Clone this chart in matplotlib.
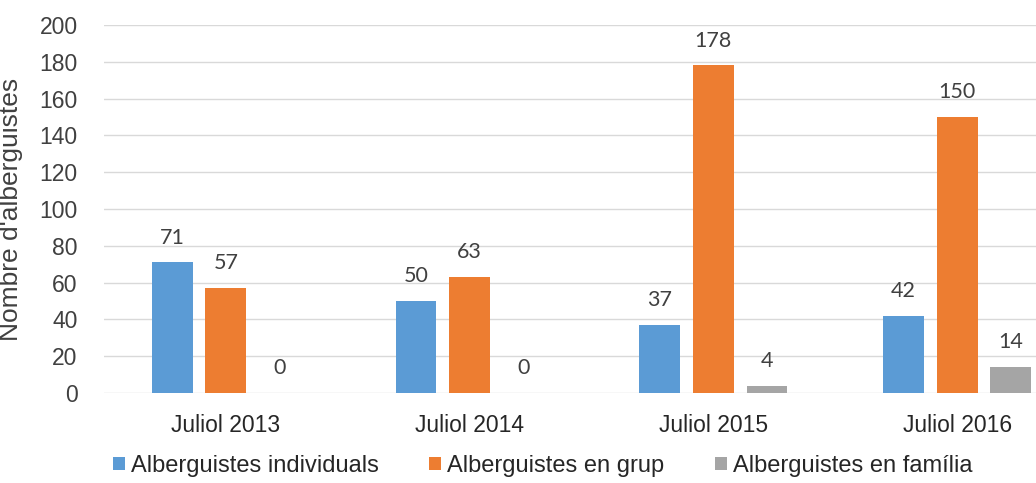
import matplotlib
matplotlib.use("Agg")
import matplotlib.pyplot as plt
import numpy as np

categories = ["Juliol 2013", "Juliol 2014", "Juliol 2015", "Juliol 2016"]
series_names = ["Alberguistes individuals", "Alberguistes en grup", "Alberguistes en família"]
individuals = [71, 50, 37, 42]
grup = [57, 63, 178, 150]
familia = [0, 0, 4, 14]
yticks = [0, 20, 40, 60, 80, 100, 120, 140, 160, 180, 200]
ylabel = "Nombre d'alberguistes"

colors = ["#5B9BD5", "#ED7D31", "#A5A5A5"]

W, H = 1036, 483
fig = plt.figure(figsize=(W / 100, H / 100), dpi=100)
# axes in pixel coords: left 104, right 1079 (chart cropped on right), y0=393, y200=25
left, right = 104, 1079
bottom_px, top_px = 393, 25
ax = fig.add_axes([left / W, (H - bottom_px) / H, (right - left) / W, (bottom_px - top_px) / H])

x = np.arange(len(categories))
bw = 0.168
off = 0.22
all_series = [individuals, grup, familia]
for i, (vals, name, c) in enumerate(zip(all_series, series_names, colors)):
    pos = x + (i - 1) * off
    ax.bar(pos, vals, width=bw, color=c, label=name, zorder=3)
    for p, v in zip(pos, vals):
        ax.text(p, v + 13.5, str(v), ha="center", va="center", fontsize=15.5,
                family="Lato", color="#404040", zorder=4)

ax.set_xlim(-0.5, len(categories) - 0.5)
ax.set_ylim(0, 200)
ax.set_yticks(yticks)
ax.set_yticklabels([str(t) for t in yticks], fontsize=16.5, family="Liberation Sans", color="#404040")
ax.set_xticks(x)
ax.set_xticklabels(categories, fontsize=16.5, family="Liberation Sans", color="#262626")
ax.tick_params(axis="both", length=0)
ax.tick_params(axis="y", pad=19)
ax.tick_params(axis="x", pad=15)
ax.yaxis.grid(True, color="#D9D9D9", linewidth=1, zorder=0)
for s in ax.spines.values():
    s.set_visible(False)
ax.set_ylabel(ylabel, fontsize=19, family="Liberation Sans", color="#404040")
ax.yaxis.set_label_coords((23 - left) / (right - left), 0.5)

handles, labels = ax.get_legend_handles_labels()
leg = fig.legend(handles, labels, loc="center left", bbox_to_anchor=(113 / W, 1 - 466 / H),
                 ncol=3, frameon=False, prop={"family": "Liberation Sans", "size": 17},
                 handlelength=0.5, handleheight=0.5, handletextpad=0.25, columnspacing=2.15,
                 borderaxespad=0, borderpad=0)
for t in leg.get_texts():
    t.set_color("#262626")

fig.savefig("out.png", dpi=100)
